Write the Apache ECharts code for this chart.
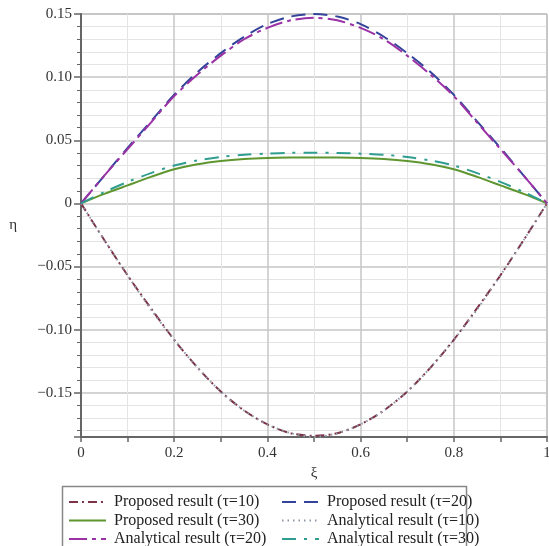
<!DOCTYPE html>
<html>
<head>
<meta charset="utf-8">
<script src="https://cdn.jsdelivr.net/npm/echarts@6/dist/echarts.min.js"></script>
<style>
  html, body { margin: 0; padding: 0; background: #fff; }
  #chart { width: 549px; height: 546px; }
</style>
</head>
<body>
<div id="chart"></div>
<script>
const xi = [0, 0.05, 0.1, 0.15, 0.2, 0.25, 0.3, 0.35, 0.4, 0.45, 0.5,
            0.55, 0.6, 0.65, 0.7, 0.75, 0.8, 0.85, 0.9, 0.95, 1];

const proposed10 = [0, -0.029, -0.057, -0.083, -0.108, -0.130, -0.149, -0.164, -0.175, -0.182, -0.184,
                    -0.182, -0.175, -0.164, -0.149, -0.130, -0.108, -0.083, -0.057, -0.029, 0];
const analytical10 = [0, -0.029, -0.057, -0.084, -0.108, -0.130, -0.149, -0.164, -0.175, -0.182, -0.185,
                      -0.182, -0.175, -0.164, -0.149, -0.130, -0.108, -0.084, -0.057, -0.029, 0];
const proposed20 = [0, 0.022, 0.044, 0.065, 0.086, 0.104, 0.119, 0.132, 0.142, 0.148, 0.150,
                    0.148, 0.142, 0.132, 0.119, 0.104, 0.086, 0.065, 0.044, 0.022, 0];
const analytical20 = [0, 0.022, 0.043, 0.064, 0.085, 0.102, 0.117, 0.130, 0.139, 0.145, 0.147,
                      0.145, 0.139, 0.130, 0.117, 0.102, 0.085, 0.064, 0.043, 0.022, 0];
const proposed30 = [0, 0.0075, 0.0143, 0.021, 0.027, 0.031, 0.0336, 0.0352, 0.036, 0.0363, 0.0364,
                    0.0363, 0.036, 0.0352, 0.0336, 0.031, 0.027, 0.021, 0.0143, 0.0075, 0];
const analytical30 = [0, 0.009, 0.017, 0.024, 0.030, 0.034, 0.0368, 0.0385, 0.0394, 0.0400, 0.0402,
                      0.0400, 0.0394, 0.0385, 0.0368, 0.034, 0.030, 0.024, 0.017, 0.009, 0];

// legend reads left column top-down, then right column
const legendLeft = ['Proposed result (τ=10)', 'Proposed result (τ=30)', 'Analytical result (τ=20)'];
const legendRight = ['Proposed result (τ=20)', 'Analytical result (τ=10)', 'Analytical result (τ=30)'];

const serif = 'Liberation Serif, Times New Roman, serif';

const pairs = ys => xi.map((x, i) => [x, ys[i]]);

const line = (name, ys, color, type) => ({
    name: name,
    type: 'line',
    data: pairs(ys),
    smooth: 0.3,
    symbol: 'none',
    lineStyle: { color: color, width: 2, type: type },
    itemStyle: { color: color }
});

const fmtY = v => {
    if (Math.abs(v) < 1e-9) return '0';
    return (v < 0 ? '\u2212' : '') + Math.abs(v).toFixed(2);
};
const fmtX = v => (v === 0 || v === 1) ? String(v) : v.toFixed(1);

// one legend per entry so the two columns line up like the original box
const legendItem = (name, left, row) => ({
    data: [name],
    left: left,
    top: 494 + row * 18.5,
    padding: 0,
    itemWidth: 37, itemHeight: 14,
    itemStyle: { opacity: 0 },
    textStyle: { fontFamily: serif, fontSize: 16, color: '#222', padding: [0, 0, 0, 3] }
});
const legends = legendLeft.map((n, i) => legendItem(n, 68, i))
    .concat(legendRight.map((n, i) => legendItem(n, 281, i)));

const chart = echarts.init(document.getElementById('chart'));
chart.setOption({
    animation: false,
    grid: {
        left: 81, right: 2, top: 14, bottom: 109,
        outerBoundsMode: 'none',
        show: true,
        borderColor: '#9a9a9a',
        borderWidth: 1
    },
    xAxis: {
        type: 'value',
        min: 0, max: 1, interval: 0.2,
        name: 'ξ',
        nameLocation: 'middle',
        nameGap: 28,
        nameTextStyle: { fontFamily: serif, fontSize: 15, color: '#333' },
        axisLine: { onZero: false, lineStyle: { color: '#666', width: 2 } },
        axisTick: { show: true, length: 5, lineStyle: { color: '#666', width: 1.5 } },
        minorTick: { show: true, splitNumber: 2, length: 5, lineStyle: { color: '#666', width: 1.5 } },
        axisLabel: { formatter: fmtX, fontFamily: serif, fontSize: 15, color: '#333', margin: 9 },
        splitLine: { lineStyle: { color: '#c6c6c6', width: 1.5 } },
        minorSplitLine: { show: true, lineStyle: { color: '#e4e4e4', width: 1 } }
    },
    yAxis: {
        type: 'value',
        min: -0.185, max: 0.15,
        minInterval: 0.05, maxInterval: 0.05,
        name: 'η',
        nameLocation: 'middle',
        nameRotate: 0,
        nameGap: 64,
        nameTextStyle: { fontFamily: serif, fontSize: 15, color: '#333' },
        axisLine: { show: true, onZero: false, lineStyle: { color: '#666', width: 2 } },
        axisTick: { show: true, length: 7, lineStyle: { color: '#666', width: 1.5 } },
        minorTick: { show: true, splitNumber: 5, length: 4, lineStyle: { color: '#666', width: 1 } },
        axisLabel: { formatter: fmtY, showMinLabel: false, fontFamily: serif, fontSize: 15, color: '#333', margin: 9 },
        splitLine: { lineStyle: { color: '#c6c6c6', width: 1.5 } },
        minorSplitLine: { show: true, lineStyle: { color: '#e4e4e4', width: 1 } }
    },
    legend: legends,
    graphic: [{
        type: 'rect',
        shape: { x: 62.5, y: 486.5, width: 404, height: 80 },
        style: { fill: 'none', stroke: '#888', lineWidth: 1.5 },
        silent: true
    }],
    series: [
        line('Proposed result (τ=10)', proposed10, '#7d3448', [9, 4, 2, 4]),
        line('Proposed result (τ=20)', proposed20, '#34449a', [14, 8]),
        line('Proposed result (τ=30)', proposed30, '#5f9630', 'solid'),
        line('Analytical result (τ=10)', analytical10, '#8f98a8', [1.5, 4]),
        line('Analytical result (τ=20)', analytical20, '#9a32a6', [18, 5, 4, 5]),
        line('Analytical result (τ=30)', analytical30, '#2f9e90', [14, 8, 3, 8])
    ]
});
</script>
</body>
</html>
